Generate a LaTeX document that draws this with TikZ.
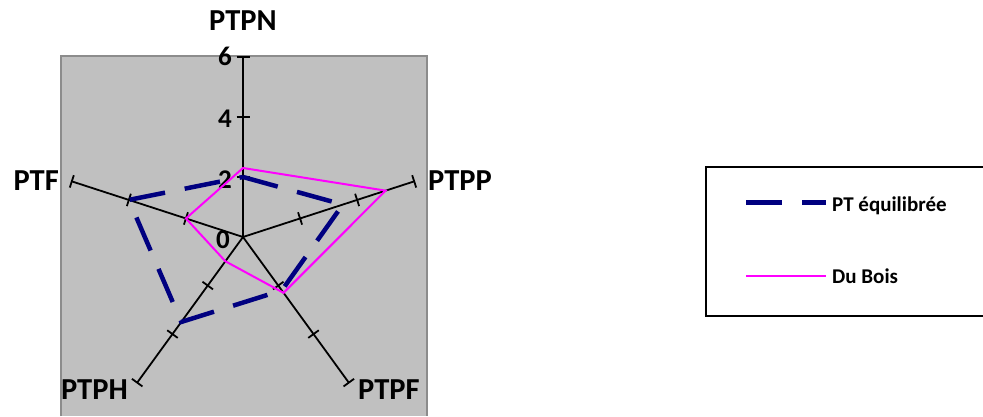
\documentclass[tikz,border=0pt]{standalone}
\usepackage{fontspec}
\setmainfont{Carlito}
\usepackage{xcolor}
\usepackage{tikz}
\definecolor{fondo}{HTML}{C0C0C0}
\definecolor{borde}{HTML}{8C8C8C}
\definecolor{marino}{HTML}{000080}
\definecolor{rosa}{HTML}{FF00FF}
\begin{document}
\begin{tikzpicture}[
            x=1pt, y=1pt,
            % Ejes y marcas
            axis/.style={draw, black, line width=1.8pt},
            tickmark/.style={draw, black, line width=1.8pt},
            catlabel/.style={font=\fontsize{30.5}{32}\selectfont\bfseries, inner sep=0pt},
            numlabel/.style={font=\fontsize{27}{29}\selectfont\bfseries, inner sep=0pt, anchor=base east},
            % Series
            equil/.style={draw=marino, line width=4.5pt, dash pattern=on 36pt off 20pt},
            dubois/.style={draw=rosa, line width=2pt},
            legtext/.style={font=\fontsize{21}{23}\selectfont\bfseries, inner sep=0pt, anchor=base west}
        ]
            \useasboundingbox (0,0) rectangle (983,416);
            \fill [fondo] (61,0) rectangle (427,360);
            \draw [borde, line width=2pt] (61,0) -- (61,360) -- (427,360) -- (427,0);

            \coordinate (O) at (243,179);
            \path (O) ++(90:180) coordinate (ptpn);
            \path (O) ++(18:180) coordinate (ptpp);
            \path (O) ++(-54:180) coordinate (ptpf);
            \path (O) ++(-126:180) coordinate (ptph);
            \path (O) ++(162:180) coordinate (ptf);

            \path [axis] (O) -- (ptpn);
            \path [axis] (O) -- (ptpp);
            \path [axis] (O) -- (ptpf);
            \path [axis] (O) -- (ptph);
            \path [axis] (O) -- (ptf);
            \foreach \a in {90,18,-54,-126,162}
                \foreach \r in {60,120,180}
                    \path [tickmark] (O) ++(\a:\r) ++(\a+90:6.5) -- ++(\a-90:13);

            \node [numlabel] (n0) at (230,168) {0};
            \node [numlabel] (n2) at (232,228) {2};
            \node [numlabel] (n4) at (232,289) {4};
            \node [numlabel] (n6) at (232,350) {6};

            \node [catlabel, anchor=base] (lptpn) at (243,385) {PTPN};
            \node [catlabel, anchor=base west] (lptpp) at (428,226) {PTPP};
            \node [catlabel, anchor=base west] (lptpf) at (358,17) {PTPF};
            \node [catlabel, anchor=base east] (lptph) at (128,17) {PTPH};
            \node [catlabel, anchor=base east] (lptf) at (59,226) {PTF};

            % PT equilibree
            \path (O) ++(90:60) coordinate (e1);
            \path (O) ++(18:105) coordinate (e2);
            \path (O) ++(-54:66) coordinate (e3);
            \path (O) ++(-126:105) coordinate (e4);
            \path (O) ++(162:120) coordinate (e5);
            \path [equil] (e1) -- (e2) -- (e3) -- (e4) -- (e5) -- cycle;

            % Du Bois
            \path (O) ++(90:69) coordinate (d1);
            \path (O) ++(18:150) coordinate (d2);
            \path (O) ++(-54:69) coordinate (d3);
            \path (O) ++(-126:30) coordinate (d4);
            \path (O) ++(162:60) coordinate (d5);
            \path [dubois] (d1) -- (d2) -- (d3) -- (d4) -- (d5) -- cycle;

            % Leyenda
            \draw [black, line width=2pt] (990,249) -- (706,249) -- (706,100) -- (990,100);
            \coordinate (la) at (746,214);
            \coordinate (lb) at (826,214);
            \coordinate (lc) at (746,140);
            \coordinate (ld) at (826,140);
            \path [equil, line width=5pt] (la) -- (lb);
            \path [dubois] (lc) -- (ld);
            \node [legtext] (leq) at (832,205) {PT équilibrée};
            \node [legtext] (ldb) at (832,133) {Du Bois};
        \end{tikzpicture}
\end{document}
